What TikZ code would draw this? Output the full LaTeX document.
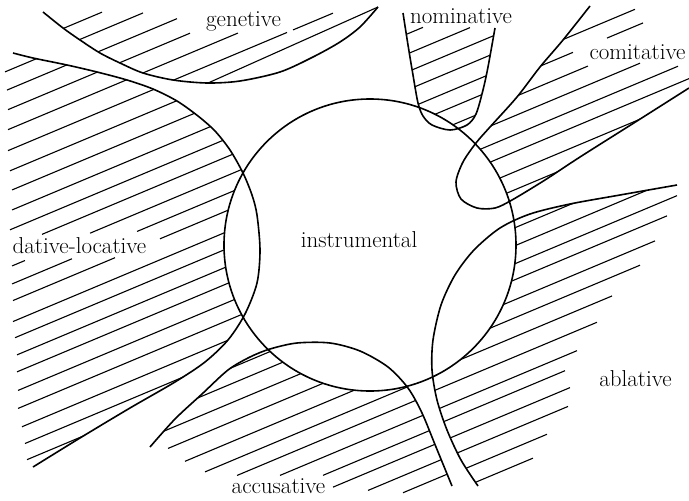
\documentclass[tikz,border=0pt]{standalone}
\usepackage{fontspec}
\newcommand{\hatchline}[3]{\draw[hatch] (#2,{#1-0.42*(#2)}) -- (#3,{#1-0.42*(#3)});}
\begin{document}
\begin{tikzpicture}[x=1pt,y=-1pt,
  hatch/.style={line width=1.1pt},
  bound/.style={line width=1.6pt, line join=round},
  lab/.style={font=\fontsize{23}{27}\selectfont, inner sep=0pt, anchor=base}]
\useasboundingbox (0,0) rectangle (689,501);
\fill[white] (0,0) rectangle (689,501);

% ---------- dative-locative hatching
\begin{scope}
\clip plot[smooth] coordinates {(13,53) (33,58) (67,65) (97,72) (127,80) (153,89) (177,101) (198,116) (215,131) (230,150) (243,173) (252,195) (257,215) (260,250) (257,283) (245,314) (228,340) (205,362) (175,382) (130,408) (80,438) (33,467)} -- (-20,490) -- (-20,45) -- cycle;
\foreach \bb/\ua/\va in {74/5/400, 93/7/400, 113/8/400, 133/8/400, 154/8/400, 175/10/400, 195/12/400, 215/12/400, 234/10/400, 252/42/400, 271/12/25, 271/90/400, 289/12/72, 289/137/400, 306/13/115, 306/160/400, 327/13/400, 344/15/400, 362/17/400, 379/17/400, 398/18/400, 416/18/400, 436/22/400, 454/25/400, 471/27/400}{\hatchline{\bb}{\ua}{\va}}
\end{scope}

% ---------- genetive hatching
\begin{scope}
\clip plot[smooth] coordinates {(43,12) (63,28) (80,40) (100,53) (120,63) (143,73) (173,80) (207,83) (240,81) (280,72) (313,57) (340,42) (360,27) (378,7)} -- (378,-20) -- (43,-20) -- cycle;
\foreach \bb/\ua/\va in {55/-50/102, 73/-50/143, 93/-50/177, 113/-50/190, 133/-50/238, 153/-50/287, 153/293/333}{\hatchline{\bb}{\ua}{\va}}
\draw[hatch] (378,7) -- (200,86.6);
\end{scope}

% ---------- nominative hatching
\begin{scope}
\clip plot[smooth] coordinates {(403,13) (408,45) (413,75) (418,103) (423,116) (432,125) (450,130) (467,125) (476,114) (483,90) (488,67) (495,28)} -- (497,-10) -- (401,-10) -- cycle;
\foreach \bb/\ua/\va in {205/380/423, 225/380/470, 243/380/520, 261/380/520, 280/380/520, 297/380/520, 315/380/520}{\hatchline{\bb}{\ua}{\va}}
\end{scope}

% ---------- comitative hatching
\begin{scope}
\clip plot[smooth] coordinates {(590,6) (563,40) (540,67) (517,97) (490,127) (476,143) (463,162) (456,182) (461,199) (477,208) (495,208) (512,200) (545,180) (580,157) (637,121) (689,88)} -- (720,68) -- (720,-30) -- (600,-30) -- cycle;
\foreach \bb/\ua/\va in {276/450/635, 293/450/573, 293/607/643, 313/450/588, 332/450/640, 351/450/678, 368/450/720, 388/450/720, 406/450/720}{\hatchline{\bb}{\ua}{\va}}
\end{scope}

% ---------- ablative hatching
\begin{scope}
\clip plot[smooth] coordinates {(677,185) (620,195) (570,204) (530,214) (500,228) (474,250) (455,275) (441,305) (433,340) (432,370) (437,400) (447,430) (461,460) (478,486)} -- (478,530) -- (720,530) -- (720,185) -- cycle;
\foreach \bb/\ua/\va in {444/400/720, 462/400/720, 480/400/677, 496/400/667, 516/400/655, 534/400/640, 553/400/612, 573/400/597, 593/400/577, 608/400/565, 627/400/570, 645/400/568, 664/400/547, 682/400/533}{\hatchline{\bb}{\ua}{\va}}
\end{scope}

% ---------- accusative hatching
\begin{scope}
\clip plot[smooth] coordinates {(150,447) (175,419) (202,394) (228,370) (250,357) (270,349) (297,343) (330,343) (360,351) (388,367) (408,388) (422,413) (436,447) (452,486)} -- (470,530) -- (140,530) -- cycle;
\foreach \bb/\ua/\va in {465/100/500, 481/100/500, 500/100/500, 519/168/500, 539/185/500, 558/205/500, 575/237/500, 593/280/500, 611/323/500, 627/333/500, 645/368/500, 662/403/500}{\hatchline{\bb}{\ua}{\va}}
\end{scope}

% ---------- instrumental circle (no hatching inside)
\fill[white] (370,245) circle[radius=146pt];

% ---------- boundaries
\draw[bound] (370,245) circle[radius=146pt];
\draw[bound] plot[smooth] coordinates {(43,12) (63,28) (80,40) (100,53) (120,63) (143,73) (173,80) (207,83) (240,81) (280,72) (313,57) (340,42) (360,27) (378,7)};
\draw[bound] plot[smooth] coordinates {(13,53) (33,58) (67,65) (97,72) (127,80) (153,89) (177,101) (198,116) (215,131) (230,150) (243,173) (252,195) (257,215) (260,250) (257,283) (245,314) (228,340) (205,362) (175,382) (130,408) (80,438) (33,467)};
\draw[bound] plot[smooth] coordinates {(403,13) (408,45) (413,75) (418,103) (423,116) (432,125) (450,130) (467,125) (476,114) (483,90) (488,67) (495,28)};
\draw[bound] plot[smooth] coordinates {(590,6) (563,40) (540,67) (517,97) (490,127) (476,143) (463,162) (456,182) (461,199) (477,208) (495,208) (512,200) (545,180) (580,157) (637,121) (689,88)};
\draw[bound] plot[smooth] coordinates {(677,185) (620,195) (570,204) (530,214) (500,228) (474,250) (455,275) (441,305) (433,340) (432,370) (437,400) (447,430) (461,460) (478,486)};
\draw[bound] plot[smooth] coordinates {(150,447) (175,419) (202,394) (228,370) (250,357) (270,349) (297,343) (330,343) (360,351) (388,367) (408,388) (422,413) (436,447) (452,486)};

% ---------- labels
\node[lab] (gen) at (243.5,26) {genetive};
\node[lab] (nom) at (461,23) {nominative};
\node[lab] (com) at (637.5,59) {comitative};
\node[lab] (ins) at (359,247) {instrumental};
\node[lab] (dat) at (79.5,253) {dative-locative};
\node[lab] (abl) at (635.5,386) {ablative};
\node[lab] (acc) at (278.5,493) {accusative};
\end{tikzpicture}
\end{document}
